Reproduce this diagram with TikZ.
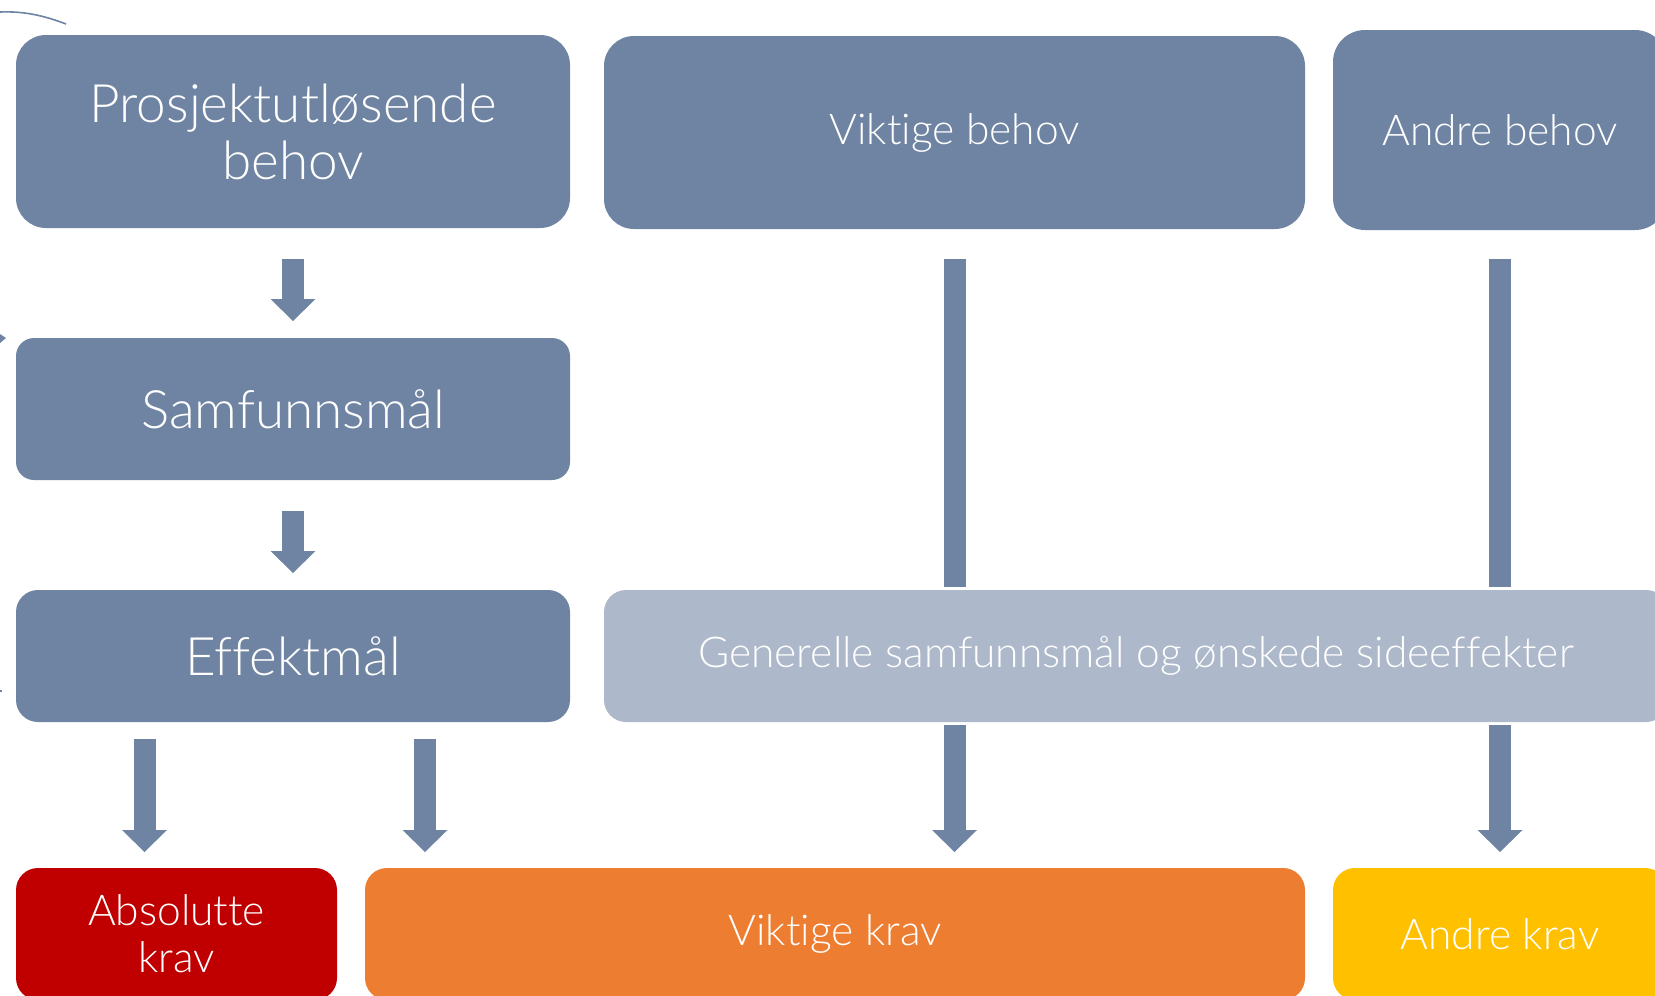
\documentclass[tikz,border=0pt]{standalone}
\usepackage{fontspec}
\setmainfont{Lato Light}[Ligatures=CommonOff]
\usetikzlibrary{arrows.meta,calc}
\definecolor{slate}{HTML}{6F84A2}
\definecolor{pale}{HTML}{ADB9CA}
\definecolor{krred}{HTML}{C00000}
\definecolor{krorange}{HTML}{ED7D31}
\definecolor{kryellow}{HTML}{FFC000}
\begin{document}
\begin{tikzpicture}[x=1pt,y=-1pt,
  box/.style={inner sep=0pt, outer sep=0pt, text=white, align=center},
  big/.style={font=\fontsize{53}{57}\selectfont},
  mid/.style={font=\fontsize{42.5}{47}\selectfont},
  blockarrow/.style={draw=slate, line width=22pt, -{Triangle[width=45pt,length=22pt,line width=0pt]}},
  bar/.style={draw=slate, line width=22pt}]
\useasboundingbox (0,0) rectangle (1655,996);
\clip (0,0) rectangle (1655,996);
% boxes
\node[box, big, fill=slate, rounded corners=30pt, minimum width=554pt, minimum height=193pt] (p) at (293,131.5) {Prosjektutløsende\\behov};
\node[box, mid, fill=slate, rounded corners=30pt, minimum width=701pt, minimum height=193pt] (vb) at (954.5,132.5) {Viktige behov};
\node[box, mid, fill=slate, rounded corners=32pt, minimum width=334pt, minimum height=200pt] (ab) at (1500,130) {Andre behov};
\node[box, big, fill=slate, rounded corners=18pt, minimum width=554pt, minimum height=142pt] (s) at (293,409) {Samfunnsmål};
\node[box, big, fill=slate, rounded corners=22pt, minimum width=554pt, minimum height=132pt] (e) at (293,656) {Effektmål};
\node[box, mid, fill=pale, rounded corners=22pt, minimum width=1064pt, minimum height=132pt] (g) at (1136,656) {Generelle samfunnsmål og ønskede sideeffekter};
\node[box, mid, fill=krred, rounded corners=22pt, minimum width=321pt, minimum height=132pt] (a) at (176.5,934) {Absolutte\\krav};
\node[box, mid, fill=krorange, rounded corners=22pt, minimum width=940pt, minimum height=132pt] (vk) at (835,934) {Viktige krav};
\node[box, mid, fill=kryellow, rounded corners=22pt, minimum width=334pt, minimum height=132pt] (ak) at (1500,934) {Andre krav};
% arrows
\draw[blockarrow] ($(p.south)+(0,31)$) -- ($(s.north)+(0,-17)$);
\draw[blockarrow] ($(s.south)+(0,31)$) -- ($(e.north)+(0,-17)$);
\draw[blockarrow] ($(e.south)+(-148.5,17)$) -- ($(a.north)+(-32,-16)$);
\draw[blockarrow] ($(e.south)+(132,17)$) -- ($(vk.north)+(-410,-16)$);
\draw[bar] ($(vb.south)+(0,30)$) -- ($(g.north -| vb.south)+(0,-3)$);
\draw[bar] ($(ab.south)+(0,29)$) -- ($(g.north -| ab.south)+(0,-3)$);
\draw[blockarrow] ($(g.south -| vb.south)+(0,3)$) -- ($(vk.north -| vb.south)+(0,-16)$);
\draw[blockarrow] ($(g.south -| ak.north)+(0,3)$) -- ($(ak.north)+(0,-16)$);
% edge fragments
\coordinate (arcA) at (0,12);
\coordinate (arcB) at (66,24);
\draw[slate, line width=1.6pt] (arcA) .. controls (25,11) and (45,16) .. (arcB);
\fill[slate] (0,334) -- (6,338) -- (0,343) -- cycle;
\fill[slate] (0,690) rectangle (1.5,692);
\end{tikzpicture}
\end{document}
